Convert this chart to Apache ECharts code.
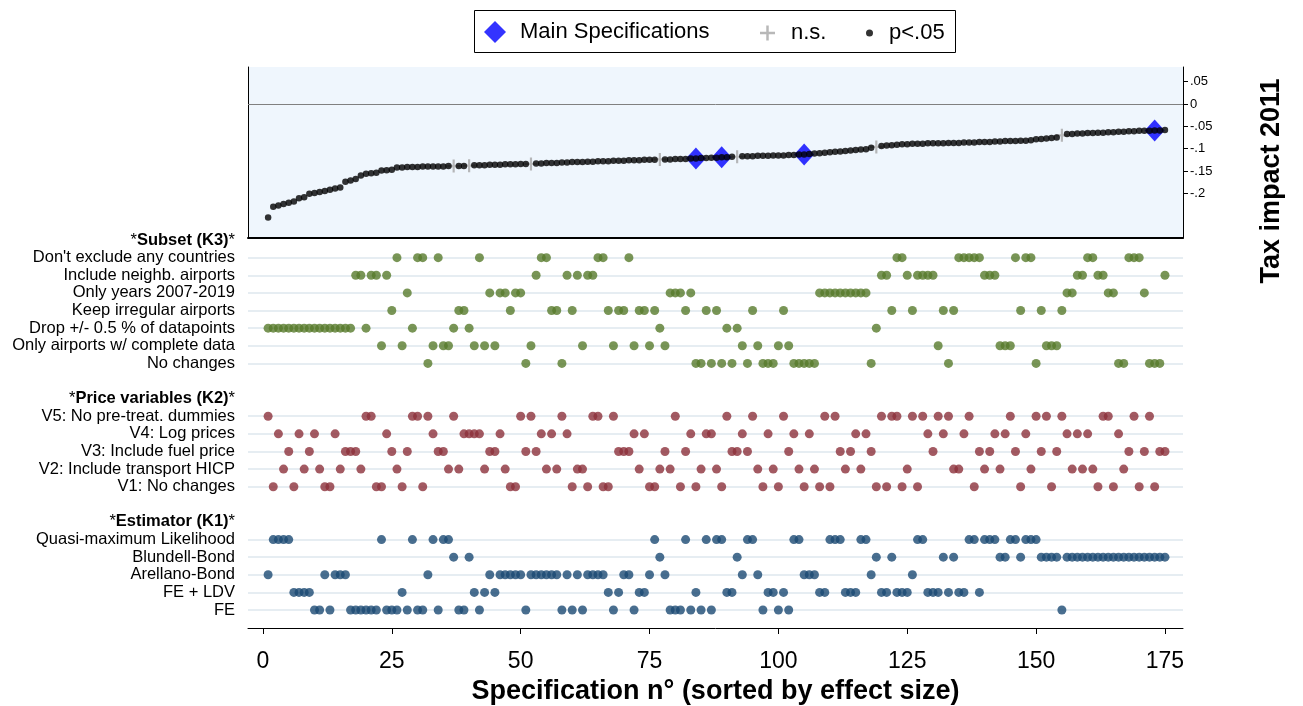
<!DOCTYPE html>
<html><head><meta charset="utf-8">
<script src="https://cdn.jsdelivr.net/npm/echarts@6/dist/echarts.min.js"></script>
<style>html,body{margin:0;padding:0;background:#fff}#c{width:1303px;height:706px}</style>
</head><body><div id="c"></div>
<script>
// Effect size of each specification, sorted (spec n = position + 1)
const effectSize = [
-0.254,-0.230,-0.227,-0.224,-0.221,-0.218,-0.211,-0.209,-0.201,-0.199,
-0.197,-0.195,-0.192,-0.189,-0.187,-0.174,-0.171,-0.168,-0.160,-0.156,
-0.155,-0.154,-0.149,-0.148,-0.147,-0.142,-0.142,-0.141,-0.141,-0.141,
-0.140,-0.140,-0.140,-0.140,-0.140,-0.139,-0.139,-0.139,-0.139,-0.138,
-0.137,-0.137,-0.137,-0.136,-0.136,-0.136,-0.135,-0.135,-0.135,-0.134,
-0.134,-0.134,-0.133,-0.133,-0.132,-0.132,-0.132,-0.131,-0.131,-0.130,
-0.130,-0.130,-0.129,-0.129,-0.128,-0.128,-0.128,-0.127,-0.127,-0.127,
-0.126,-0.126,-0.126,-0.125,-0.125,-0.125,-0.124,-0.124,-0.124,-0.123,
-0.123,-0.123,-0.122,-0.122,-0.121,-0.121,-0.120,-0.120,-0.119,-0.119,
-0.118,-0.118,-0.117,-0.117,-0.117,-0.116,-0.116,-0.116,-0.115,-0.115,
-0.115,-0.114,-0.114,-0.113,-0.113,-0.112,-0.111,-0.110,-0.109,-0.108,
-0.107,-0.106,-0.105,-0.104,-0.103,-0.102,-0.101,-0.098,-0.096,-0.094,
-0.093,-0.092,-0.091,-0.090,-0.090,-0.089,-0.089,-0.089,-0.088,-0.088,
-0.088,-0.088,-0.087,-0.087,-0.087,-0.086,-0.086,-0.086,-0.085,-0.085,
-0.085,-0.084,-0.084,-0.083,-0.083,-0.083,-0.082,-0.082,-0.081,-0.079,
-0.078,-0.077,-0.076,-0.075,-0.070,-0.067,-0.067,-0.066,-0.066,-0.065,
-0.065,-0.064,-0.064,-0.063,-0.063,-0.062,-0.062,-0.061,-0.061,-0.060,
-0.060,-0.060,-0.059,-0.059,-0.058
];
const nsSpecs = [37, 40, 52, 77, 92, 119, 155];
const mainSpecs = [84, 89, 105, 173];

const subsetLabels = ["Don't exclude any countries", "Include neighb. airports", "Only years 2007-2019",
  "Keep irregular airports", "Drop +/- 0.5 % of datapoints", "Only airports w/ complete data", "No changes"];
const priceLabels = ["V5: No pre-treat. dummies", "V4: Log prices", "V3: Include fuel price",
  "V2: Include transport HICP", "V1: No changes"];
const estimatorLabels = ["Quasi-maximum Likelihood", "Blundell-Bond", "Arellano-Bond", "FE + LDV", "FE"];
const groupTitles = ["Subset (K3)", "Price variables (K2)", "Estimator (K1)"];

// index into subsetLabels for each spec
const subsetChoice = [
4,4,4,4,4,4,4,4,4,4, 4,4,4,4,4,4,4,1,1,4, 1,1,5,1,3,0,5,2,4,0, 0,6,5,0,5,5,4,3,3,4,
5,0,5,2,5,2,2,3,2,2, 6,5,1,0,0,3,3,6,1,3, 1,5,1,1,0,0,3,5,3,3, 0,5,3,3,5,3,4,5,2,2,
2,3,2,6,6,3,6,3,6,4, 6,4,5,6,3,5,6,6,6,5, 3,5,6,6,6,6,6,2,2,2, 2,2,2,2,2,2,2,6,4,1,
1,3,0,0,1,3,1,1,1,1, 5,3,6,3,0,0,0,0,0,1, 1,1,5,5,5,0,3,0,0,6, 3,5,5,5,3,2,2,1,1,0,
0,1,1,2,2,6,6,0,0,0, 2,6,6,6,1
];
// price variable version (V1..V5) for each spec
const priceVersion = [
5,1,4,2,3,1,4,2,3,4, 2,1,1,4,2,3,3,3,2,5, 5,1,1,4,3,2,1,3,5,5, 1,5,4,3,3,2,5,2,4,4,
4,4,2,3,3,4,2,1,1,5, 3,5,3,4,2,4,2,5,4,1, 2,2,1,5,5,1,1,5,3,3, 3,4,2,4,1,1,2,3,2,5,
1,3,4,1,2,4,4,2,1,5, 3,3,4,3,5,2,1,4,2,1, 5,3,4,2,1,4,2,1,5,1, 5,3,2,3,4,2,4,3,1,5,
1,5,5,1,2,5,1,5,4,3, 5,4,5,2,2,4,5,1,3,2, 3,4,2,4,5,3,1,4,2,5, 3,5,1,3,5,4,2,4,2,4,
2,1,5,5,1,4,2,3,5,1, 3,5,1,3,3
];
// index into estimatorLabels for each spec
const estimatorChoice = [
2,0,0,0,0,3,3,3,3,4, 4,2,4,2,2,2,4,4,4,4, 4,4,0,4,4,4,3,4,0,4, 4,2,0,4,0,0,1,4,4,1,
3,4,3,2,3,2,2,2,2,2, 4,2,2,2,2,2,2,4,2,4, 2,4,2,2,2,2,3,4,3,2, 2,4,3,3,2,0,1,2,4,4,
4,0,4,3,4,0,4,0,0,3, 3,1,2,0,0,2,4,3,3,4, 3,4,0,0,2,2,2,3,3,0, 0,0,3,3,3,0,0,2,1,3,
3,1,3,3,3,2,0,0,3,3, 3,1,3,1,3,3,0,0,3,0, 0,0,1,1,0,0,1,0,0,0, 1,1,1,1,4,1,1,1,1,1,
1,1,1,1,1,1,1,1,1,1, 1,1,1,1,1
];

const xTicks = [0, 25, 50, 75, 100, 125, 150, 175];
const yTicks = [0.05, 0, -0.05, -0.1, -0.15, -0.2];
const yTickLabels = ['.05', '0', '-.05', '-.1', '-.15', '-.2'];

// ---- build rows of the lower panel ----
const rowLabels = [];
const dataRows = [];
function addGroup(title, labels) {
  const start = rowLabels.length;
  rowLabels.push('*{b|' + title + '}*');
  labels.forEach(l => { dataRows.push(rowLabels.length); rowLabels.push(l); });
  return start + 1;
}
const subsetStart = addGroup(groupTitles[0], subsetLabels);
rowLabels.push('');
const priceStart = addGroup(groupTitles[1], priceLabels);
rowLabels.push('');
const estStart = addGroup(groupTitles[2], estimatorLabels);
const rowIdx = rowLabels.map((_, i) => i);

const subsetData = subsetChoice.map((c, i) => [i + 1, subsetStart + c]);
const priceData = priceVersion.map((v, i) => [i + 1, priceStart + priceLabels.findIndex(l => l.startsWith('V' + v + ':'))]);
const estData = estimatorChoice.map((c, i) => [i + 1, estStart + c]);

const sigData = [], nsData = [], mainData = [];
effectSize.forEach((v, i) => {
  const n = i + 1;
  if (nsSpecs.includes(n)) nsData.push([n, v]); else sigData.push([n, v]);
  if (mainSpecs.includes(n)) mainData.push([n, v]);
});

const FONT = 'Arial, "Liberation Sans", sans-serif';
const plusPath = 'path://M5,0 L7,0 L7,5 L12,5 L12,7 L7,7 L7,12 L5,12 L5,7 L0,7 L0,5 L5,5 Z';
const XMIN = -2.9, XMAX = 178.5;

const chart = echarts.init(document.getElementById('c'), null, {renderer: 'canvas'});
chart.setOption({
  animation: false,
  backgroundColor: '#ffffff',
  textStyle: {fontFamily: FONT},
  graphic: [
    {type: 'rect', left: 474, top: 10, shape: {width: 481, height: 42}, style: {fill: '#fff', stroke: '#000', lineWidth: 1}, z: -1},
    {type: 'text', x: 1272, y: 181, rotation: Math.PI / 2,
     style: {text: 'Tax impact 2011', font: 'bold 27px ' + FONT, fill: '#000', textAlign: 'center', textVerticalAlign: 'middle'}}
  ],
  legend: [
    {data: ['Main Specifications'], left: 479, top: 16, itemWidth: 22, itemHeight: 22, selectedMode: false,
     textStyle: {fontSize: 22, color: '#000', padding: [0, 0, 0, 9]}},
    {data: ['n.s.'], left: 755, top: 17, itemWidth: 15, itemHeight: 15, selectedMode: false,
     textStyle: {fontSize: 22, color: '#000', padding: [0, 0, 0, 11]}},
    {data: ['p<.05'], left: 861, top: 17, itemWidth: 7, itemHeight: 7, selectedMode: false,
     textStyle: {fontSize: 22, color: '#000', padding: [0, 0, 0, 11]}}
  ],
  grid: [
    {left: 248, top: 67, width: 935, height: 171, show: true, backgroundColor: '#EFF6FD', borderWidth: 0,
     outerBoundsMode: 'none', containLabel: false},
    {left: 248, top: 239, width: 935, height: 389, show: false, outerBoundsMode: 'none', containLabel: false}
  ],
  xAxis: [
    {type: 'value', gridIndex: 0, min: XMIN, max: XMAX, position: 'bottom',
     axisLine: {show: true, onZero: false, lineStyle: {color: '#000', width: 2}},
     axisTick: {show: false}, axisLabel: {show: false}, splitLine: {show: false}},
    {type: 'value', gridIndex: 1, min: XMIN, max: XMAX, position: 'bottom',
     axisLine: {show: true, onZero: false, lineStyle: {color: '#000', width: 1}},
     axisTick: {show: true, customValues: xTicks, length: 6, lineStyle: {color: '#000'}},
     axisLabel: {customValues: xTicks, fontSize: 23, color: '#000', margin: 22},
     splitLine: {show: false},
     name: 'Specification n° (sorted by effect size)', nameLocation: 'middle', nameGap: 48,
     nameTextStyle: {fontSize: 27, fontWeight: 'bold', color: '#000'}}
  ],
  yAxis: [
    {type: 'value', gridIndex: 0, min: -0.3, max: 0.083, position: 'right',
     axisLine: {show: true, onZero: false, lineStyle: {color: '#000', width: 1}},
     axisTick: {show: true, customValues: yTicks, length: 5, lineStyle: {color: '#000'}},
     axisLabel: {customValues: yTicks, fontSize: 13, color: '#000', margin: 7,
       formatter: v => yTickLabels[yTicks.findIndex(t => Math.abs(t - v) < 1e-9)]},
     splitLine: {show: false}},
    {type: 'value', gridIndex: 0, min: -0.3, max: 0.083, position: 'left',
     axisLine: {show: true, onZero: false, lineStyle: {color: '#000', width: 1}},
     axisTick: {show: false}, axisLabel: {show: false}, splitLine: {show: false}},
    {type: 'value', gridIndex: 1, min: -0.06, max: 22.02, inverse: true,
     axisLine: {show: false, onZero: false}, axisTick: {show: false}, splitLine: {show: false},
     axisLabel: {customValues: rowIdx, fontSize: 16.5, color: '#000', margin: 13,
       formatter: v => rowLabels[Math.round(v)],
       rich: {b: {fontWeight: 'bold', fontSize: 16.5, color: '#000'}}}}
  ],
  series: [
    {name: 'Main Specifications', type: 'scatter', xAxisIndex: 0, yAxisIndex: 0, data: mainData,
     symbol: 'diamond', symbolSize: [20, 22], itemStyle: {color: '#0000FF'}, z: 2,
     markLine: {silent: true, symbol: 'none', label: {show: false},
       lineStyle: {color: '#808080', width: 1, type: 'solid'}, data: [{yAxis: 0}]}},
    {name: 'n.s.', type: 'scatter', xAxisIndex: 0, yAxisIndex: 0, data: nsData,
     symbol: plusPath, symbolSize: 13, itemStyle: {color: '#A6A6A6'}, z: 3},
    {name: 'p<.05', type: 'scatter', xAxisIndex: 0, yAxisIndex: 0, data: sigData,
     symbol: 'circle', symbolSize: 6.5, itemStyle: {color: '#000'}, z: 4},
    {name: 'rows', type: 'line', xAxisIndex: 1, yAxisIndex: 2, data: [], z: 1,
     markLine: {silent: true, symbol: 'none', label: {show: false}, z: 1,
       lineStyle: {color: '#E6EDF2', width: 2, type: 'solid'},
       data: dataRows.map(r => ({yAxis: r}))}},
    {name: 'subset', type: 'scatter', xAxisIndex: 1, yAxisIndex: 2, data: subsetData,
     symbolSize: 9, itemStyle: {color: '#587A2C'}, z: 5},
    {name: 'price', type: 'scatter', xAxisIndex: 1, yAxisIndex: 2, data: priceData,
     symbolSize: 9, itemStyle: {color: '#8C313B'}, z: 5},
    {name: 'estimator', type: 'scatter', xAxisIndex: 1, yAxisIndex: 2, data: estData,
     symbolSize: 9, itemStyle: {color: '#1C4A73'}, z: 5}
  ]
});
</script></body></html>
